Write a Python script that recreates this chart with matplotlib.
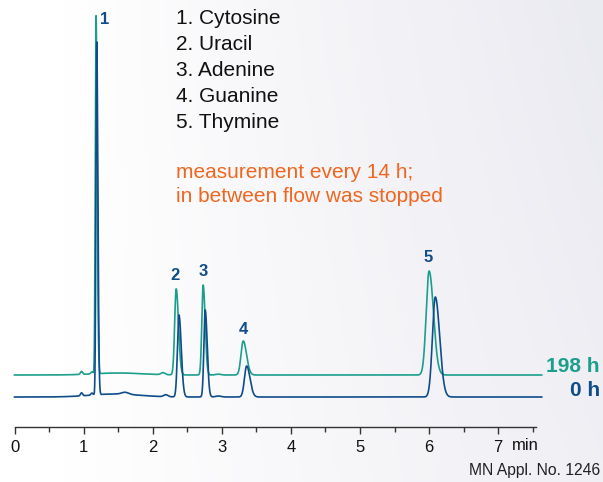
import numpy as np
import matplotlib
matplotlib.use('Agg')
import matplotlib.pyplot as plt
from matplotlib.colors import LinearSegmentedColormap

plt.rcParams['font.family'] = ['Liberation Sans', 'DejaVu Sans']

# peak table (retention time in min, height in signal units)
peak_names = ['Cytosine', 'Uracil', 'Adenine', 'Guanine', 'Thymine']
rt_0h = [1.19, 2.38, 2.76, 3.36, 6.09]
height_0h = [353, 82, 87, 31, 100]
rt_198h = [1.18, 2.34, 2.73, 3.31, 6.00]
height_198h = [358, 86, 90, 34, 104]
peak_sigma = [0.011, 0.022, 0.019, 0.032, 0.042]

# small baseline features (time, height, width)
minor_0h = [(0.97, 3, 0.015), (1.12, 2, 0.015), (1.45, 3, 0.35), (1.6, 2, 0.05),
            (2.19, 2, 0.03), (2.95, 1, 0.04)]
minor_198h = [(0.97, 3, 0.015), (1.12, 2, 0.015), (1.5, 2, 0.35), (2.15, 2, 0.03),
              (2.95, 0.8, 0.04)]

traces = ['198 h', '0 h']
trace_offset = 22
run_end = 7.63

teal = '#1b9e8c'
blue = '#0f4c8a'
orange = '#f0661e'


def peak(t, rt, h, s):
    # slightly tailing peak shape
    sr = s * 1.5
    y = np.where(t < rt, np.exp(-0.5 * ((t - rt) / s) ** 2), np.exp(-0.5 * ((t - rt) / sr) ** 2))
    return h * y


def chromatogram(t, rts, hs, minors):
    y = np.zeros_like(t)
    for rt, h, s in zip(rts, hs, peak_sigma):
        y += peak(t, rt, h, s)
    for rt, h, s in minors:
        y += h * np.exp(-0.5 * ((t - rt) / s) ** 2)
    return y


t = np.linspace(0, run_end, 6000)
sig_0h = chromatogram(t, rt_0h, height_0h, minor_0h)
sig_198h = chromatogram(t, rt_198h, height_198h, minor_198h) + trace_offset

W, H = 603, 482
fig = plt.figure(figsize=(W / 100, H / 100), dpi=100)

# soft background gradient
bg = fig.add_axes([0, 0, 1, 1], zorder=0)
gx = np.clip((np.linspace(0, 1, 200) - 0.1) / 0.9, 0, 1)
gy = np.linspace(0, 1, 100)[:, None]
grad = gx[None, :] * (0.75 + 0.25 * gy)
cmap = LinearSegmentedColormap.from_list('bg', ['#ffffff', '#eaeaf1'])
bg.imshow(grad, cmap=cmap, aspect='auto', extent=[0, 1, 0, 1], origin='lower')
bg.axis('off')

ax = fig.add_axes([0, 0, 1, 1], zorder=1)
ax.patch.set_alpha(0)
px_per_min = 69.1
x0_px = 14.5
ax.set_xlim(-x0_px / px_per_min, (W - x0_px) / px_per_min)
base_px = 397
ax.set_ylim(-(H - base_px), base_px)

ax.plot(t, sig_198h, color=teal, lw=1.2)
ax.plot(t, sig_0h, color=blue, lw=1.2)

# peak numbers
label_pos = [(1.31, 377), (2.32, 122), (2.73, 126), (3.31, 67), (5.98, 140)]
for i, (lx, ly) in enumerate(label_pos):
    ax.text(lx, ly, str(i + 1), color=blue, fontsize=12, fontweight='bold',
            ha='center', va='center')

# x axis
for s in ['top', 'right', 'left']:
    ax.spines[s].set_visible(False)
ax.spines['bottom'].set_position(('data', -30))
ax.spines['bottom'].set_bounds(0, 7.55)
ax.spines['bottom'].set_color('#333333')
ax.spines['bottom'].set_linewidth(1.0)
ax.set_yticks([])
ax.set_xticks(range(8))
ax.set_xticks(np.arange(0.5, 7.6, 1.0), minor=True)
ax.tick_params(axis='x', which='major', direction='out', length=5, width=1.0,
               color='#333333', labelsize=12, pad=4, labelcolor='#111111')
ax.tick_params(axis='x', which='minor', direction='out', length=3.5, width=1.0,
               color='#333333')
ax.text(7.2, -48, 'min', fontsize=12, color='#111111', ha='left', va='center')

# trace labels
fig.text(1 - 3 / W, 1 - 367 / H, traces[0], color=teal, fontsize=15, fontweight='bold',
         ha='right', va='center')
fig.text(1 - 3 / W, 1 - 390 / H, traces[1], color=blue, fontsize=15, fontweight='bold',
         ha='right', va='center')

# peak list
for i, name in enumerate(peak_names):
    fig.text(176 / W, 1 - (18 + 26 * i) / H, f'{i + 1}. {name}', fontsize=15,
             color='#111111', ha='left', va='center')

fig.text(176 / W, 1 - 172 / H, 'measurement every 14 h;', fontsize=15, color=orange,
         ha='left', va='center')
fig.text(176 / W, 1 - 197 / H, 'in between flow was stopped', fontsize=15, color=orange,
         ha='left', va='center')

fig.text(1 - 3 / W, 1 - 471 / H, 'MN Appl. No. 1246', fontsize=11.3, color='#222222',
         ha='right', va='center')

fig.savefig('out.png', dpi=100)
